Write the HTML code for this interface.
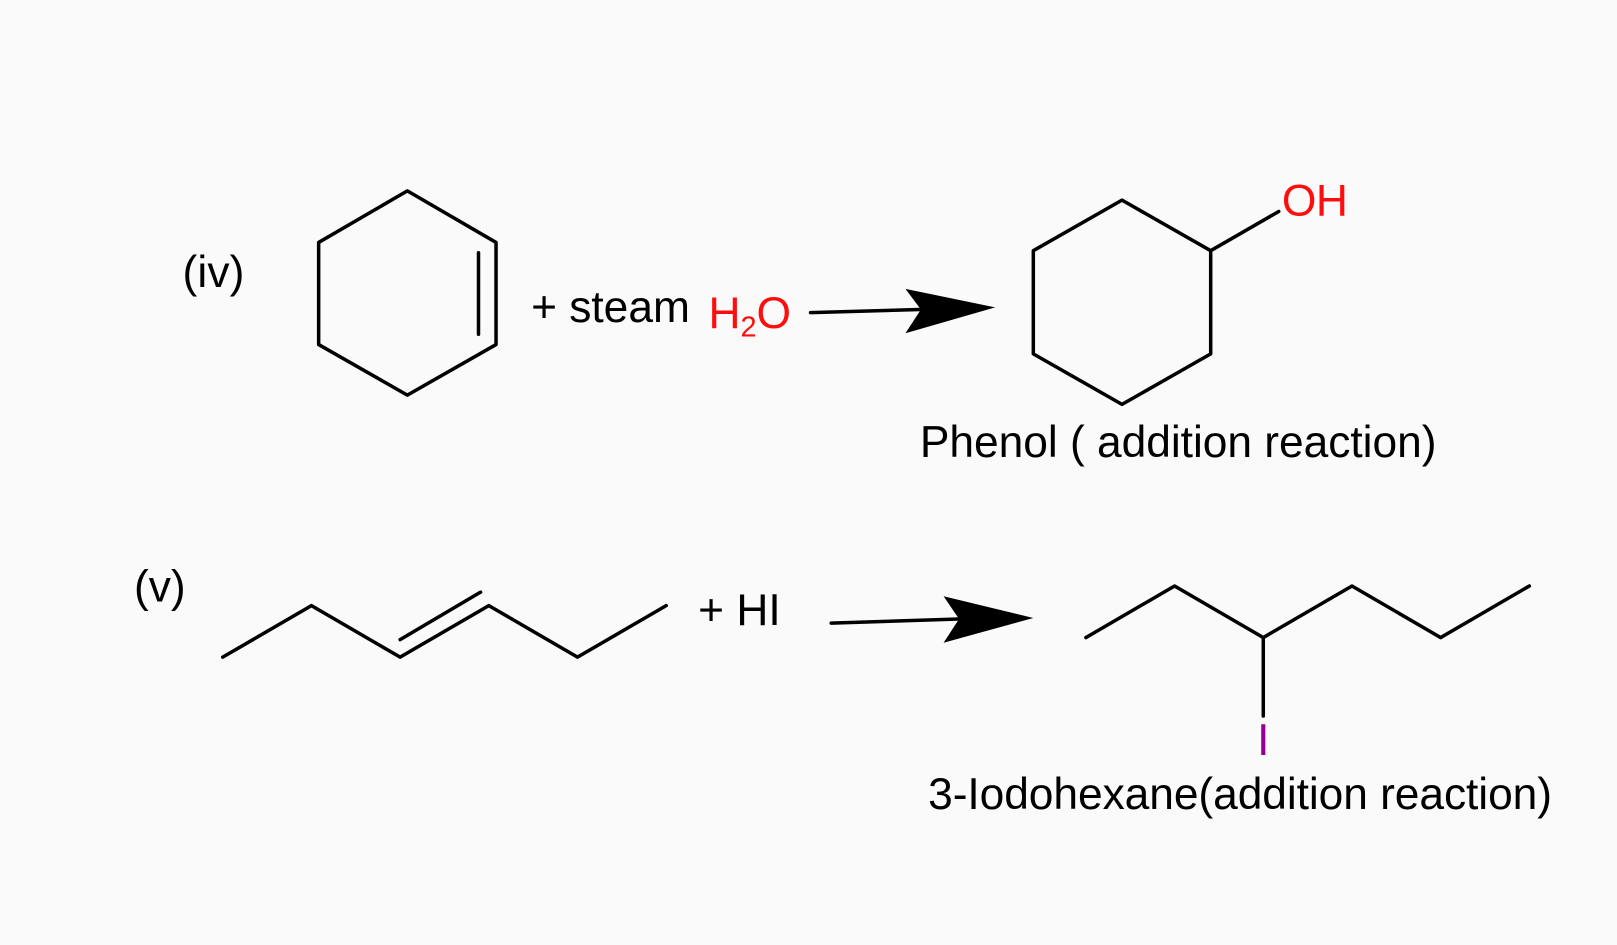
<!DOCTYPE html>
<html><head><meta charset="utf-8"><style>
html,body{margin:0;padding:0;background:#fafafa;}
svg{display:block;}
text{font-family:"Liberation Sans",Arial,sans-serif;font-size:43px;}
</style></head><body>
<svg width="1617" height="945" viewBox="0 0 1568 916" preserveAspectRatio="none" xmlns="http://www.w3.org/2000/svg">
<rect width="1568" height="916" fill="#fafafa"/>
<g fill="none" stroke="#000" stroke-width="3.4" stroke-linecap="round" stroke-linejoin="round">
<polygon points="395,185 481,235 481,334 395,383 309,334 309,235"/>
<line x1="464" y1="245" x2="464" y2="324"/>
<polygon points="1088,194 1174,243 1174,343 1088,392 1002,343 1002,243"/>
<line x1="1174" y1="243" x2="1240" y2="205"/>
<polyline points="216,637 302,587 388,637 474,587 560,637 646,587"/>
<line x1="388" y1="620" x2="466" y2="574"/>
<polyline points="1053,618 1139,568 1225,618 1311,568 1397,618 1483,568"/>
<line x1="1225" y1="618" x2="1225" y2="694"/>
<line x1="786" y1="303" x2="892" y2="300"/>
<line x1="806" y1="604" x2="930" y2="600"/>
</g>
<polygon points="878,280 965,298 878,323 893,300" fill="#000"/>
<polygon points="915,578 1002,599 915,623 930,600" fill="#000"/>
<text x="177" y="278" textLength="60">(iv)</text>
<text x="515" y="312" textLength="154">+ steam</text>
<text x="687" y="318" fill="#ff0d0d">H<tspan font-size="28" dy="8">2</tspan><tspan dy="-8">O</tspan></text>
<text x="1243" y="209" fill="#ff0d0d" textLength="64">OH</text>
<text x="892" y="443" textLength="501">Phenol ( addition reaction)</text>
<text x="130" y="583" textLength="50">(v)</text>
<text x="677" y="606" textLength="80">+ HI</text>
<text x="1225" y="732" fill="#940094" text-anchor="middle">I</text>
<text x="900" y="784" textLength="605">3-Iodohexane(addition reaction)</text>
</svg>
</body></html>
